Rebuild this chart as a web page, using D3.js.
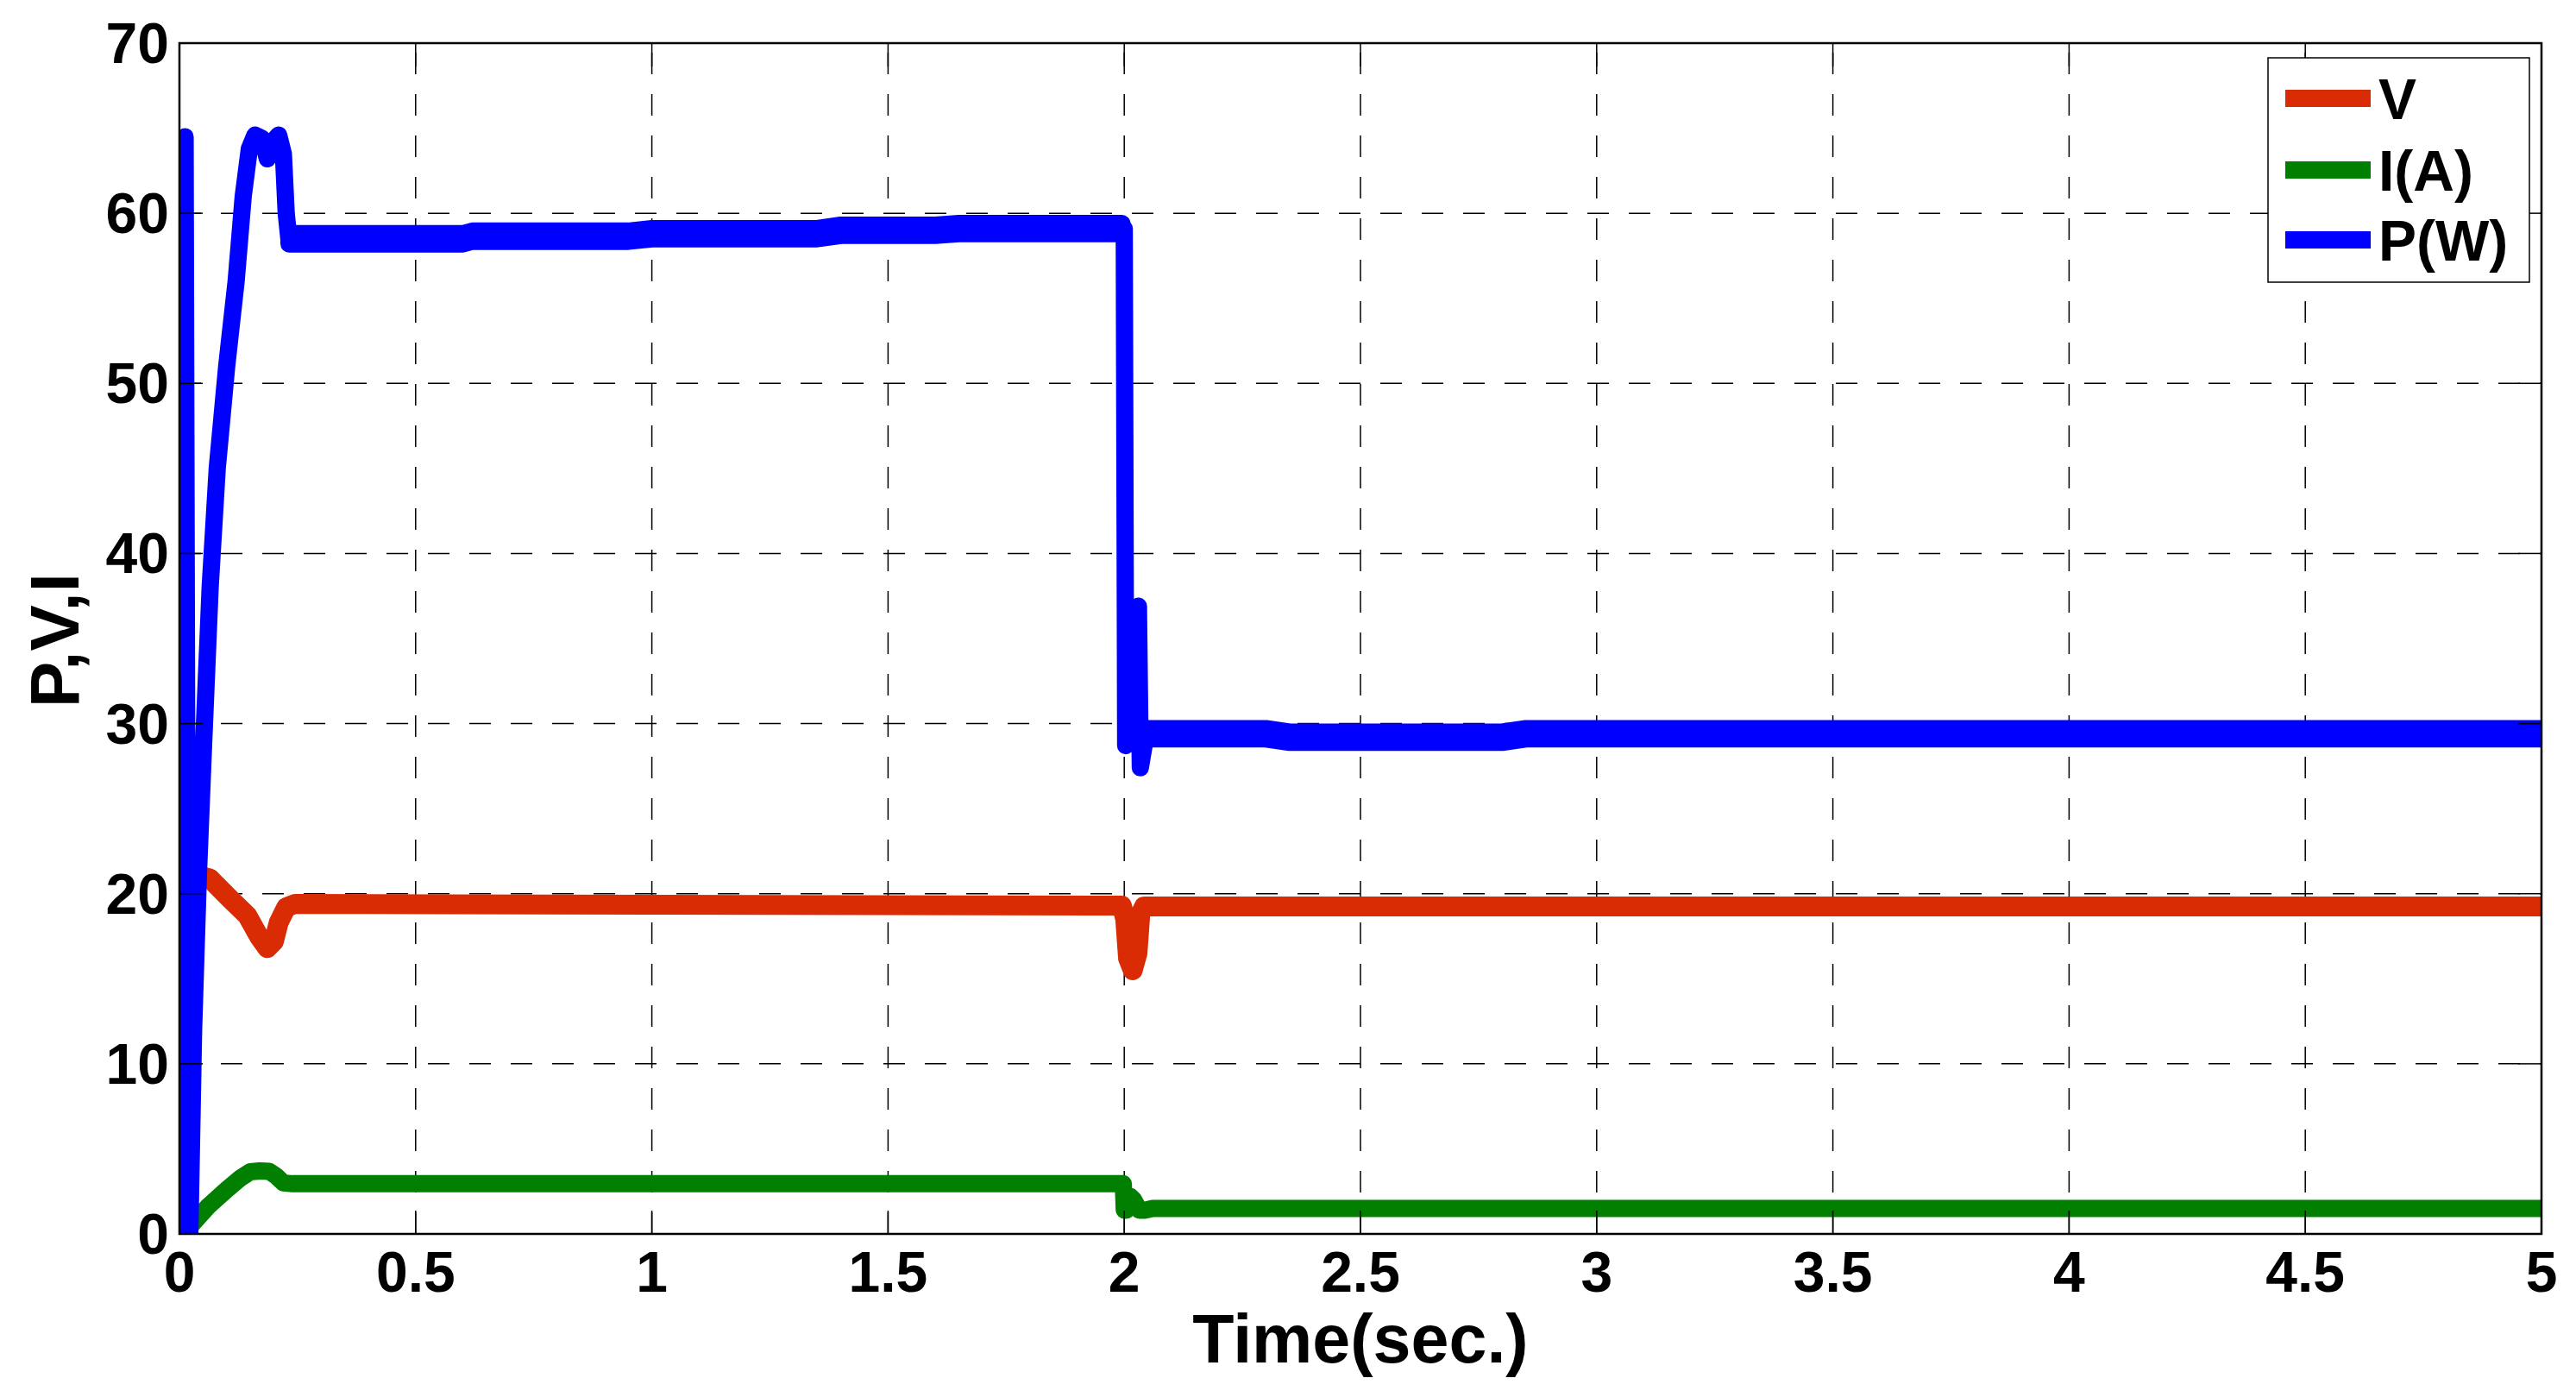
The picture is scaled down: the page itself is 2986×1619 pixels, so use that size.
<!DOCTYPE html>
<html><head><meta charset="utf-8">
<script src="https://cdn.jsdelivr.net/npm/d3@7"></script>
<style>
html,body{margin:0;padding:0;background:#fff;}
svg{display:block;}
text{font-family:"Liberation Sans",Arial,sans-serif;font-weight:bold;fill:#000;}
</style>
</head><body>
<svg id="c" width="2986" height="1619"></svg>
<script>
// ---- tick definitions ----
const xTicks = [0, 0.5, 1, 1.5, 2, 2.5, 3, 3.5, 4, 4.5, 5];
const xTickLabels = ["0", "0.5", "1", "1.5", "2", "2.5", "3", "3.5", "4", "4.5", "5"];
const yTicks = [0, 10, 20, 30, 40, 50, 60, 70];
const yTickLabels = ["0", "10", "20", "30", "40", "50", "60", "70"];
const seriesNames = ["V", "I(A)", "P(W)"];
const seriesColors = ["#D92B04", "#007F00", "#0000FF"];
const xLabel = "Time(sec.)";
const yLabel = "P,V,I";

// ---- V (red) ----
const V_t = [0.02, 0.064, 0.107, 0.144, 0.168, 0.186, 0.2, 0.21, 0.226, 0.245, 1.0, 1.995, 2.002, 2.008, 2.018, 2.028, 2.034, 2.042, 3.0, 5.0];
const V_v = [21.2, 20.9, 19.7, 18.7, 17.5, 16.8, 17.2, 18.3, 19.2, 19.4, 19.35, 19.3, 18.5, 16.2, 15.5, 16.5, 18.8, 19.25, 19.25, 19.25];

// ---- I (green) ----
const I_t = [0.018, 0.06, 0.1, 0.13, 0.15, 0.17, 0.19, 0.205, 0.22, 0.24, 1.0, 1.998, 2.0, 2.005, 2.013, 2.02, 2.032, 2.045, 2.06, 5.0];
const I_v = [0.3, 1.6, 2.6, 3.3, 3.65, 3.7, 3.68, 3.4, 3.0, 2.95, 2.95, 2.95, 1.4, 1.4, 2.2, 2.0, 1.4, 1.4, 1.5, 1.5];

// ---- P (blue) main trace ----
const P_t = [0.004, 0.012, 0.018, 0.022, 0.03, 0.04, 0.05, 0.065, 0.08, 0.1, 0.12, 0.135, 0.148, 0.16, 0.175, 0.186, 0.197, 0.21, 0.22, 0.226, 0.232, 0.6, 0.62, 0.95, 1.0, 1.35, 1.4, 1.6, 1.65, 2.0, 2.003, 2.03, 2.034, 2.045, 2.3, 2.35, 2.8, 2.85, 5.0];
const P_v = [0, 64.5, 0.5, 0, 12, 21, 28, 38, 45, 51, 56, 61, 63.8, 64.6, 64.4, 63.2, 64.2, 64.6, 63.5, 60, 58.4, 58.5, 58.65, 58.65, 58.8, 58.8, 59.0, 59.0, 59.1, 59.1, 28.7, 36.9, 27.4, 29.2, 29.4, 29.2, 29.2, 29.4, 29.4];

const Pband1_t  = [0.232, 0.6, 0.62, 0.95, 1.0, 1.35, 1.4, 1.6, 1.65, 1.995];
const Pband1_lo = [58.2, 58.2, 58.35, 58.35, 58.5, 58.5, 58.7, 58.7, 58.8, 58.8];
const Pband1_hi = [58.8, 58.8, 58.95, 58.95, 59.1, 59.1, 59.3, 59.3, 59.4, 59.4];
const Pband2_t  = [2.05, 2.3, 2.35, 2.8, 2.85, 5.0];
const Pband2_lo = [29.1, 29.1, 28.9, 28.9, 29.1, 29.1];
const Pband2_hi = [29.7, 29.7, 29.5, 29.5, 29.7, 29.7];

// ---- layout ----
const L = 208, R = 2946, T = 50, B = 1430;
const svg = d3.select("#c");
const x = d3.scaleLinear().domain([0, 5]).range([L, R]);
const y = d3.scaleLinear().domain([0, 70]).range([B, T]);

// grid
const grid = svg.append("g");
xTicks.slice(1, -1).forEach(t => {
  grid.append("line").attr("x1", x(t)).attr("x2", x(t)).attr("y1", B).attr("y2", T)
    .attr("stroke", "#000").attr("stroke-width", 1.5).attr("stroke-dasharray", "25,23");
});
yTicks.slice(1, -1).forEach(v => {
  grid.append("line").attr("x1", L).attr("x2", R).attr("y1", y(v)).attr("y2", y(v))
    .attr("stroke", "#000").attr("stroke-width", 1.5).attr("stroke-dasharray", "25,23");
});

// clip
svg.append("clipPath").attr("id", "clip").append("rect")
  .attr("x", L).attr("y", T).attr("width", R - L).attr("height", B - T);
const plot = svg.append("g").attr("clip-path", "url(#clip)");

const zip = (ts, vs) => ts.map((t, i) => [t, vs[i]]);
const line = d3.line().x(d => x(d[0])).y(d => y(d[1]));
const area = d3.area().x(d => x(d[0])).y0(d => y(d[1])).y1(d => y(d[2]));

function drawLine(data, color, w) {
  plot.append("path").datum(data).attr("d", line)
    .attr("fill", "none").attr("stroke", color).attr("stroke-width", w)
    .attr("stroke-linejoin", "round").attr("stroke-linecap", "round");
}
function drawBand(ts, lo, hi, color, w) {
  const d = ts.map((t, i) => [t, lo[i], hi[i]]);
  plot.append("path").datum(d).attr("d", area)
    .attr("fill", color).attr("stroke", color).attr("stroke-width", w)
    .attr("stroke-linejoin", "round");
}

drawLine(zip(V_t, V_v), seriesColors[0], 23);
drawLine(zip(I_t, I_v), seriesColors[1], 20);
drawLine(zip(P_t, P_v), seriesColors[2], 20);
drawBand(Pband1_t, Pband1_lo, Pband1_hi, seriesColors[2], 20);
drawBand(Pband2_t, Pband2_lo, Pband2_hi, seriesColors[2], 20);

// axes box and ticks
const ax = svg.append("g");
const TL = 27;
xTicks.forEach(t => {
  ax.append("line").attr("x1", x(t)).attr("x2", x(t)).attr("y1", B).attr("y2", B - TL).attr("stroke", "#000").attr("stroke-width", 1.5);
  ax.append("line").attr("x1", x(t)).attr("x2", x(t)).attr("y1", T).attr("y2", T + TL).attr("stroke", "#000").attr("stroke-width", 1.5);
});
yTicks.forEach(v => {
  ax.append("line").attr("x1", L).attr("x2", L + TL).attr("y1", y(v)).attr("y2", y(v)).attr("stroke", "#000").attr("stroke-width", 1.5);
  ax.append("line").attr("x1", R).attr("x2", R - TL).attr("y1", y(v)).attr("y2", y(v)).attr("stroke", "#000").attr("stroke-width", 1.5);
});
ax.append("rect").attr("x", L).attr("y", T).attr("width", R - L).attr("height", B - T)
  .attr("fill", "none").attr("stroke", "#000").attr("stroke-width", 2.5);

// tick labels
xTicks.forEach((t, i) => {
  svg.append("text").attr("x", x(t)).attr("y", 1497).attr("text-anchor", "middle")
    .attr("font-size", 66).text(xTickLabels[i]);
});
yTicks.forEach((v, i) => {
  svg.append("text").attr("x", 196).attr("y", y(v) + 23).attr("text-anchor", "end")
    .attr("font-size", 66).text(yTickLabels[i]);
});

// axis labels
svg.append("text").attr("x", (L + R) / 2).attr("y", 1579).attr("text-anchor", "middle")
  .attr("font-size", 79).text(xLabel);
svg.append("text").attr("transform", "translate(91," + ((T + B) / 2 + 2) + ") rotate(-90)")
  .attr("text-anchor", "middle").attr("font-size", 80).text(yLabel);

// legend
const lg = svg.append("g");
lg.append("rect").attr("x", 2629).attr("y", 67).attr("width", 303).attr("height", 260)
  .attr("fill", "#fff").attr("stroke", "#000").attr("stroke-width", 1.5);
const legY = [114, 197, 278];
seriesNames.forEach((n, i) => {
  lg.append("line").attr("x1", 2649).attr("x2", 2748).attr("y1", legY[i]).attr("y2", legY[i])
    .attr("stroke", seriesColors[i]).attr("stroke-width", 20);
  lg.append("text").attr("x", 2757).attr("y", legY[i] + 24).attr("font-size", 66).text(n);
});
</script>
</body></html>
